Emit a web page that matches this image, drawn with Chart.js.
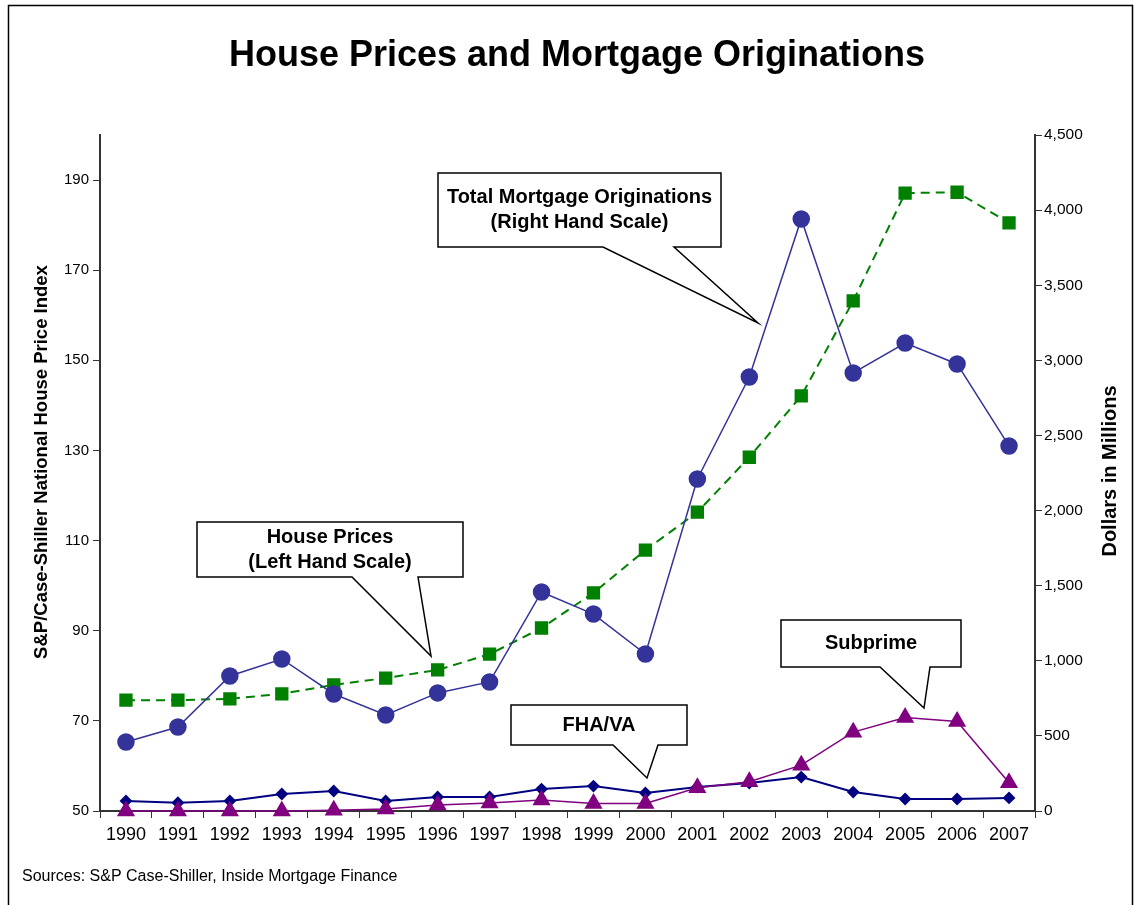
<!DOCTYPE html>
<html>
<head>
<meta charset="utf-8">
<script src="https://cdn.jsdelivr.net/npm/chart.js@4"></script>
<style>
  body { margin: 0; background: #fff; }
  canvas { display: block; }
</style>
</head>
<body>
<canvas id="myChart" width="1135" height="905"></canvas>
<script>
const years = ['1990', '1991', '1992', '1993', '1994', '1995', '1996', '1997', '1998',
  '1999', '2000', '2001', '2002', '2003', '2004', '2005', '2006', '2007'];

// S&P/Case-Shiller index (left scale)
const housePrices = [74.6, 74.6, 74.9, 76.0, 78.0, 79.5, 81.3, 84.8, 90.6,
  98.4, 107.9, 116.3, 128.5, 142.1, 163.2, 187.1, 187.3, 180.5];

// dollars in millions (right scale)
const originations = [459, 559, 899, 1012, 779, 639, 786, 859, 1458,
  1311, 1045, 2210, 2889, 3941, 2916, 3115, 2976, 2430];
const fhaVa = [67, 55, 67, 113, 133, 67, 93, 93, 146,
  166, 120, 160, 186, 226, 126, 80, 80, 87];
const subprime = [0, 0, 0, 0, 5, 13, 40, 53, 73,
  50, 50, 155, 195, 305, 525, 622, 596, 188];

const leftTicks = [50, 70, 90, 110, 130, 150, 170, 190];
const rightTicks = [0, 500, 1000, 1500, 2000, 2500, 3000, 3500, 4000, 4500];

const FONT = '"Liberation Sans", Arial, sans-serif';

function callout(ctx, box, base, tip, lines) {
  const [x1, y1, x2, y2] = box;
  ctx.save();
  ctx.beginPath();
  ctx.moveTo(x1, y1);
  ctx.lineTo(x2, y1);
  ctx.lineTo(x2, y2);
  ctx.lineTo(base[1], y2);
  ctx.lineTo(tip[0], tip[1]);
  ctx.lineTo(base[0], y2);
  ctx.lineTo(x1, y2);
  ctx.closePath();
  ctx.fillStyle = '#fff';
  ctx.fill();
  ctx.lineWidth = 1.5;
  ctx.strokeStyle = '#000';
  ctx.stroke();
  ctx.fillStyle = '#000';
  ctx.font = 'bold 20px ' + FONT;
  ctx.textAlign = 'center';
  ctx.textBaseline = 'middle';
  const cx = (x1 + x2) / 2;
  const h = 25;
  const top = (y1 + y2) / 2 - (lines.length - 1) * h / 2;
  lines.forEach((t, i) => ctx.fillText(t, cx, top + i * h));
  ctx.restore();
}

const decorations = {
  id: 'decorations',
  afterDraw(chart) {
    const { ctx } = chart;
    ctx.save();
    // outer frame
    ctx.strokeStyle = '#000';
    ctx.lineWidth = 1.5;
    ctx.strokeRect(8.5, 5.5, 1124, 910);

    // title
    ctx.fillStyle = '#000';
    ctx.font = 'bold 36px ' + FONT;
    ctx.textAlign = 'center';
    ctx.textBaseline = 'middle';
    ctx.fillText('House Prices and Mortgage Originations', 577, 56);

    // axis titles
    ctx.save();
    ctx.font = 'bold 18.5px ' + FONT;
    ctx.translate(42, 462);
    ctx.rotate(-Math.PI / 2);
    ctx.fillText('S&P/Case-Shiller National House Price Index', 0, 0);
    ctx.restore();
    ctx.save();
    ctx.font = 'bold 20px ' + FONT;
    ctx.translate(1110, 471);
    ctx.rotate(-Math.PI / 2);
    ctx.fillText('Dollars in Millions', 0, 0);
    ctx.restore();

    // source
    ctx.font = '16px ' + FONT;
    ctx.textAlign = 'left';
    ctx.fillText('Sources: S&P Case-Shiller, Inside Mortgage Finance', 22, 877);
    ctx.restore();

    callout(ctx, [438, 173, 721, 247], [603, 674], [758, 323],
      ['Total Mortgage Originations', '(Right Hand Scale)']);
    callout(ctx, [197, 522, 463, 577], [352, 418], [431, 656],
      ['House Prices', '(Left Hand Scale)']);
    callout(ctx, [511, 705, 687, 745], [613, 658], [647, 778], ['FHA/VA']);
    callout(ctx, [781, 620, 961, 667], [880, 930], [924, 708], ['Subprime']);
  },
};

const axisColor = '#333';

new Chart(document.querySelector('#myChart'), {
  type: 'line',
  data: {
    labels: years,
    datasets: [
      {
        label: 'House Prices',
        data: housePrices,
        yAxisID: 'y',
        borderColor: '#008000',
        backgroundColor: '#008000',
        borderWidth: 2,
        borderDash: [9, 6],
        pointStyle: 'rect',
        pointRadius: 8,
        pointHoverRadius: 8,
        order: 4,
      },
      {
        label: 'Total Mortgage Originations',
        data: originations,
        yAxisID: 'y1',
        borderColor: '#333399',
        backgroundColor: '#333399',
        borderWidth: 1.5,
        pointStyle: 'circle',
        pointRadius: 8,
        pointHoverRadius: 8,
        order: 3,
      },
      {
        label: 'FHA/VA',
        data: fhaVa,
        yAxisID: 'y1',
        borderColor: '#000080',
        backgroundColor: '#000080',
        borderWidth: 2,
        pointStyle: 'rectRot',
        pointRadius: 5,
        pointHoverRadius: 5,
        order: 2,
      },
      {
        label: 'Subprime',
        data: subprime,
        yAxisID: 'y1',
        borderColor: '#800080',
        backgroundColor: '#800080',
        borderWidth: 1.5,
        pointStyle: 'triangle',
        pointRadius: 9,
        pointHoverRadius: 9,
        order: 1,
      },
    ],
  },
  options: {
    responsive: false,
    animation: false,
    clip: false,
    layout: { padding: { top: 135, left: 0, right: 0, bottom: 0 } },
    plugins: {
      legend: { display: false },
      tooltip: { enabled: false },
    },
    scales: {
      x: {
        offset: true,
        grid: {
          offset: true,
          drawOnChartArea: false,
          drawTicks: true,
          tickLength: 7,
          color: axisColor,
        },
        border: { color: axisColor, width: 2 },
        ticks: {
          color: '#000',
          font: { family: FONT, size: 18 },
          maxRotation: 0,
          autoSkip: false,
          padding: 6,
        },
        afterFit(scale) { scale.height = 94; },
      },
      y: {
        position: 'left',
        min: 50,
        max: 200,
        afterBuildTicks(scale) { scale.ticks = leftTicks.map((v) => ({ value: v })); },
        grid: {
          drawOnChartArea: false,
          drawTicks: true,
          tickLength: 7,
          color: axisColor,
        },
        border: { color: axisColor, width: 2 },
        ticks: {
          color: '#000',
          font: { family: FONT, size: 15 },
          padding: 4,
        },
        afterFit(scale) { scale.width = 100; },
      },
      y1: {
        position: 'right',
        min: 0,
        max: 4500,
        afterBuildTicks(scale) { scale.ticks = rightTicks.map((v) => ({ value: v })); },
        grid: {
          drawOnChartArea: false,
          drawTicks: true,
          tickLength: 7,
          color: axisColor,
        },
        border: { color: axisColor, width: 2 },
        ticks: {
          color: '#000',
          font: { family: FONT, size: 15.5 },
          padding: 2,
          callback: (v) => v.toLocaleString('en-US'),
        },
        afterFit(scale) { scale.width = 100; },
      },
    },
  },
  plugins: [decorations],
});
</script>
</body>
</html>
